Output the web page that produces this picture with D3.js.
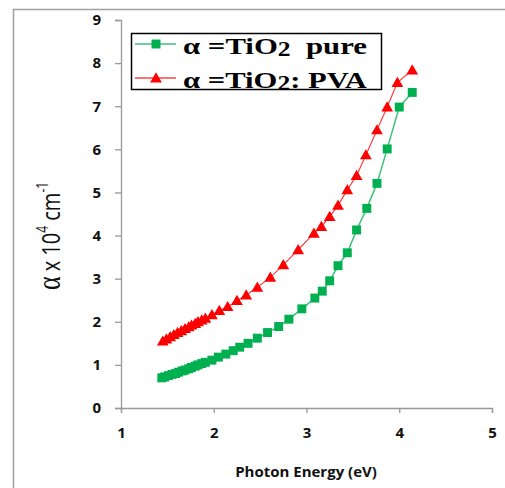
<!DOCTYPE html>
<html>
<head>
<meta charset="utf-8">
<script src="https://cdn.jsdelivr.net/npm/d3@7"></script>
<style>
  body { margin: 0; background: #fff; }
  svg { display: block; }
  .tick text { font-family: "Open Sans", "Liberation Sans", sans-serif; font-weight: bold; font-size: 15px; fill: #111; }
</style>
</head>
<body>
<div id="chart"></div>
<script>
// photon energy (eV) and absorption (x 10^4 cm-1)
var pureEnergy = [1.44, 1.47, 1.51, 1.55, 1.59, 1.62, 1.66, 1.69, 1.73, 1.76, 1.80, 1.83, 1.87, 1.91, 1.98, 2.05, 2.13, 2.21, 2.28, 2.37, 2.47, 2.58, 2.70, 2.81, 2.95, 3.09, 3.17, 3.25, 3.34, 3.44, 3.54, 3.65, 3.76, 3.87, 4.00, 4.14];
var pureAlpha = [0.70, 0.72, 0.75, 0.78, 0.80, 0.83, 0.86, 0.88, 0.91, 0.94, 0.97, 1.00, 1.03, 1.06, 1.11, 1.18, 1.25, 1.33, 1.41, 1.50, 1.62, 1.75, 1.89, 2.06, 2.30, 2.55, 2.71, 2.95, 3.30, 3.60, 4.13, 4.63, 5.21, 6.01, 6.98, 7.32];

var pvaEnergy = [1.45, 1.49, 1.53, 1.57, 1.61, 1.65, 1.69, 1.73, 1.76, 1.80, 1.83, 1.87, 1.91, 1.98, 2.06, 2.15, 2.25, 2.35, 2.47, 2.61, 2.75, 2.91, 3.08, 3.16, 3.25, 3.34, 3.44, 3.54, 3.64, 3.76, 3.87, 3.98, 4.14];
var pvaAlpha = [1.55, 1.60, 1.65, 1.70, 1.75, 1.79, 1.84, 1.88, 1.92, 1.96, 2.00, 2.04, 2.08, 2.16, 2.26, 2.35, 2.49, 2.62, 2.80, 3.03, 3.32, 3.67, 4.05, 4.21, 4.44, 4.70, 5.06, 5.39, 5.87, 6.45, 6.98, 7.55, 7.84];

var xTicks = [1, 2, 3, 4, 5];
var yTicks = [0, 1, 2, 3, 4, 5, 6, 7, 8, 9];

var width = 505, height = 488;

var svg = d3.select("#chart").append("svg")
    .attr("width", width)
    .attr("height", height);

// outer frame (only top and left edges show)
svg.append("path")
    .attr("d", "M13.5," + height + "V9.5H" + width)
    .attr("fill", "none")
    .attr("stroke", "#a0a0a0")
    .attr("stroke-width", 1.5);

var x = d3.scaleLinear().domain([1, 5]).range([121, 492]);
var y = d3.scaleLinear().domain([0, 9]).range([408, 20]);

// axes
var xAxis = svg.append("g")
    .attr("transform", "translate(0," + y(0) + ")")
    .call(d3.axisBottom(x).tickValues(xTicks).tickSize(5).tickPadding(14).tickFormat(d3.format("d")));
var yAxis = svg.append("g")
    .attr("transform", "translate(" + x(1) + ",0)")
    .call(d3.axisLeft(y).tickValues(yTicks).tickSize(6).tickPadding(14).tickFormat(d3.format("d")));

[xAxis, yAxis].forEach(function (g) {
    g.select(".domain").attr("stroke", "#999").attr("stroke-width", 1.3);
    g.selectAll(".tick line").attr("stroke", "#999").attr("stroke-width", 1.3);
});

var line = d3.line()
    .x(function (d) { return x(d[0]); })
    .y(function (d) { return y(d[1]); });

var pure = pureEnergy.map(function (e, i) { return [e, pureAlpha[i]]; });
var pva = pvaEnergy.map(function (e, i) { return [e, pvaAlpha[i]]; });

var green = "#00b050", red = "#ff0000";

svg.append("path").datum(pure)
    .attr("d", line).attr("fill", "none")
    .attr("stroke", "#3cc27a").attr("stroke-width", 1.5);
svg.append("path").datum(pva)
    .attr("d", line).attr("fill", "none")
    .attr("stroke", "#ff4040").attr("stroke-width", 1.2);

var sq = d3.symbol().type(d3.symbolSquare).size(80);
var tri = d3.symbol().type(d3.symbolTriangle).size(60);

svg.append("g").selectAll("path")
    .data(pure).enter().append("path")
    .attr("d", sq)
    .attr("transform", function (d) { return "translate(" + x(d[0]) + "," + y(d[1]) + ")"; })
    .attr("fill", green);

svg.append("g").selectAll("path")
    .data(pva).enter().append("path")
    .attr("d", tri)
    .attr("transform", function (d) { return "translate(" + x(d[0]) + "," + (y(d[1]) + 1) + ")"; })
    .attr("fill", red);

// legend
var legend = svg.append("g");
legend.append("rect")
    .attr("x", 131.5).attr("y", 33.5)
    .attr("width", 250).attr("height", 56)
    .attr("fill", "#fff").attr("stroke", "#000").attr("stroke-width", 1.5);

var items = [
    { label: "  pure", color: green, sym: sq, line: "#3cc27a", y: 44 },
    { label: ": PVA", color: red, sym: tri, line: "#ff4040", y: 78 }
];

items.forEach(function (it, i) {
    legend.append("line")
        .attr("x1", 135).attr("x2", 176)
        .attr("y1", it.y).attr("y2", it.y)
        .attr("stroke", it.line).attr("stroke-width", 1.5);
    legend.append("path")
        .attr("d", it.sym)
        .attr("transform", "translate(156," + (it.y + (i ? 1 : 0)) + ")")
        .attr("fill", it.color);
    var t = legend.append("text")
        .attr("x", 183).attr("y", it.y + 10)
        .attr("font-family", "'Liberation Serif', 'Times New Roman', serif")
        .attr("font-weight", "bold")
        .attr("font-size", 24)
        .attr("fill", "#000")
        .attr("textLength", i ? 184 : 184)
        .attr("lengthAdjust", "spacingAndGlyphs")
        .style("white-space", "pre");
    t.append("tspan").text("α =TiO");
    t.append("tspan").attr("font-size", 20).attr("dy", 2).text("2");
    t.append("tspan").attr("dy", -2).text(it.label);
});

// axis titles
svg.append("text")
    .attr("x", 306).attr("y", 477)
    .attr("text-anchor", "middle")
    .attr("font-family", "'Open Sans', 'Liberation Sans', sans-serif")
    .attr("font-weight", "bold")
    .attr("font-size", 15)
    .attr("fill", "#111")
    .text("Photon Energy (eV)");

var yt = svg.append("text")
    .attr("transform", "translate(60,236) rotate(-90) scale(1,1.3)")
    .attr("text-anchor", "middle")
    .attr("font-family", "'Open Sans', 'Liberation Sans', sans-serif")
    .attr("font-size", 20)
    .attr("fill", "#111");
yt.append("tspan").attr("font-family", "'Liberation Serif', serif").attr("font-size", 26).text("α");
yt.append("tspan").text(" x 10");
yt.append("tspan").attr("font-size", 12).attr("dy", -9).text("4");
yt.append("tspan").attr("dy", 9).text(" cm");
yt.append("tspan").attr("font-size", 12).attr("dy", -9).text("-1");
</script>
</body>
</html>
